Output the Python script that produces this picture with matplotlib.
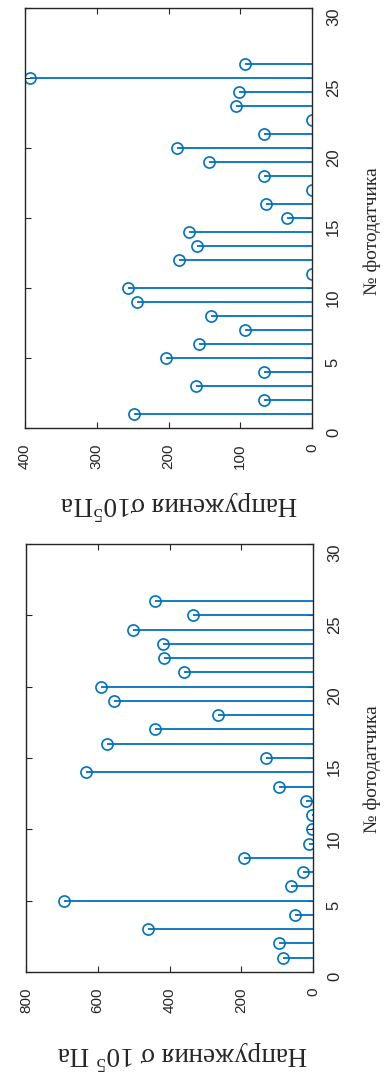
import matplotlib
matplotlib.use("Agg")
import matplotlib.pyplot as plt

# Photodetector numbers
sensors = list(range(1, 27))

# Stress readings, 10^5 Pa (upper panel)
stress_a = [248, 67, 162, 67, 203, 158, 93, 141, 244, 256, 0, 185, 160,
            172, 35, 64, 0, 67, 143, 188, 67, 0, 106, 102, 393, 93]
# Stress readings, 10^5 Pa (lower panel)
stress_b = [84, 95, 460, 50, 693, 61, 28, 192, 12, 3, 2, 20, 95,
            632, 131, 574, 440, 265, 554, 591, 359, 415, 418, 501, 334, 440]

sensor_ticks = [0, 5, 10, 15, 20, 25, 30]
stress_ticks_a = [0, 100, 200, 300, 400]
stress_ticks_b = [0, 200, 400, 600, 800]

label_a = "Напружения σ10$^5$Па"
label_b = "Напружения σ 10$^5$ Па"
sensor_label = "№ фотодатчика"

BLUE = "#0072BD"
INK = "#262626"
plt.rcParams["mathtext.fontset"] = "custom"
plt.rcParams["mathtext.rm"] = "Liberation Serif"
plt.rcParams["font.family"] = ["Liberation Sans", "DejaVu Sans"]

fig = plt.figure(figsize=(3.87, 10.77), dpi=100)
fig.patch.set_facecolor("white")

W, H = 387, 1077


def panel(rect_px, values, xmax, xticks, xlabel, xlabel_xy, ylabel_xy):
    x0, y0, x1, y1 = rect_px
    ax = fig.add_axes([x0 / W, 1 - y1 / H, (x1 - x0) / W, (y1 - y0) / H])
    markerline, stemlines, baseline = ax.stem(
        sensors, values, orientation="horizontal", basefmt=" ")
    markerline.set_marker("o")
    markerline.set_markerfacecolor("none")
    markerline.set_markeredgecolor(BLUE)
    markerline.set_markersize(8)
    markerline.set_markeredgewidth(1.2)
    stemlines.set_color(BLUE)
    stemlines.set_linewidth(1.3)
    baseline.set_visible(False)

    ax.set_xlim(xmax, 0)
    ax.set_ylim(0, 30)
    ax.set_xticks(xticks)
    ax.set_xticklabels([str(t) for t in xticks])
    ax.set_yticks(sensor_ticks)
    ax.set_yticklabels([str(t) for t in sensor_ticks])

    for s in ax.spines.values():
        s.set_linewidth(1.0)
        s.set_color(INK)
    ax.tick_params(axis="both", which="both", direction="in", length=4,
                   width=0.8, color=INK, top=True, bottom=True,
                   left=True, right=True, labelleft=False, labelright=True,
                   labeltop=False, labelbottom=True)
    ax.tick_params(axis="x", pad=11, labelsize=11, labelcolor=INK)
    ax.tick_params(axis="y", pad=10, labelsize=12, labelcolor=INK)
    for lbl in ax.get_xticklabels():
        lbl.set_rotation(90)
        lbl.set_ha("center")
        lbl.set_va("top")
    for lbl in ax.get_yticklabels():
        lbl.set_rotation(90)
        lbl.set_ha("left")
        lbl.set_va("top")

    ax.set_xlabel(xlabel, rotation=180, ha="center", va="center",
                  fontsize=19.5, family="Liberation Serif", color=INK)
    ax.xaxis.set_label_coords(*xlabel_xy)
    ax.yaxis.set_label_position("right")
    ax.set_ylabel(sensor_label, rotation=90, ha="center", va="center",
                  fontsize=14, family="Liberation Serif", color=INK)
    ax.yaxis.set_label_coords(*ylabel_xy)
    return ax


panel((25, 8, 312, 428), stress_a, 400, stress_ticks_a, label_a,
      (0.537, -0.183), (1.209, 0.469))
panel((26, 544, 313, 972), stress_b, 800, stress_ticks_b, label_b,
      (0.543, -0.194), (1.205, 0.474))

fig.savefig("out.png", dpi=100, facecolor="white")
